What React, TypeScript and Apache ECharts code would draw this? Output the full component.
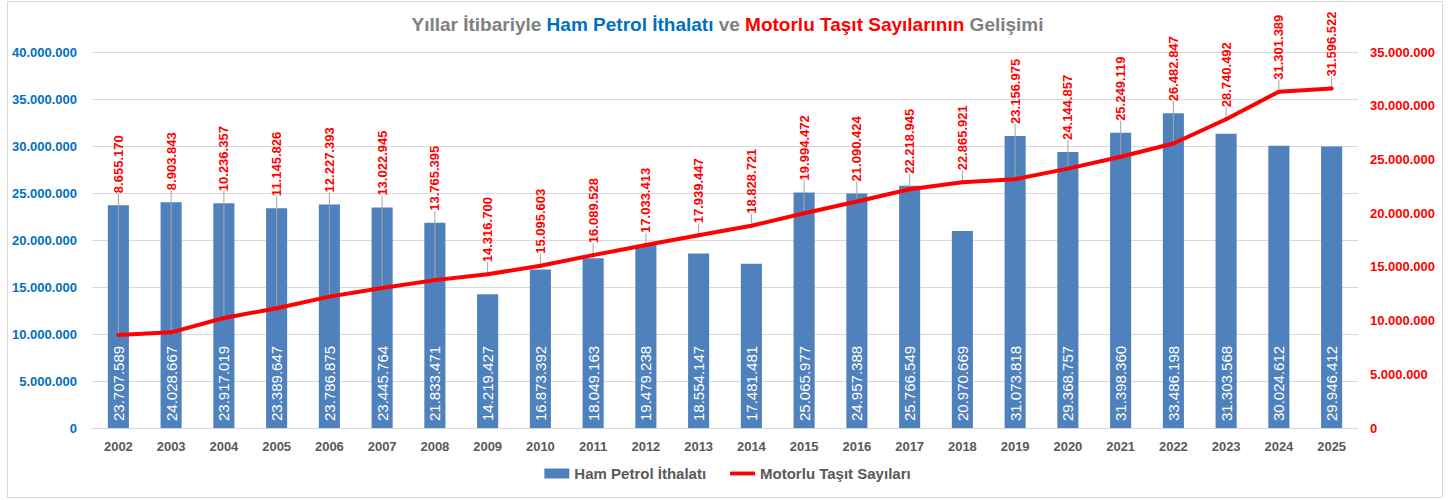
import React, { useEffect, useRef } from "react";
import * as echarts from "echarts";

const years = ["2002","2003","2004","2005","2006","2007","2008","2009","2010","2011","2012","2013","2014","2015","2016","2017","2018","2019","2020","2021","2022","2023","2024","2025"];
const crudeImports = [23707589, 24028667, 23917019, 23389647, 23786875, 23445764, 21833471, 14219427, 16873392, 18049163, 19479238, 18554147, 17481481, 25065977, 24957388, 25766549, 20970669, 31073818, 29368757, 31398360, 33486198, 31303568, 30024612, 29946412];
const vehicles = [8655170, 8903843, 10236357, 11145826, 12227393, 13022945, 13765395, 14316700, 15095603, 16089528, 17033413, 17939447, 18828721, 19994472, 21090424, 22218945, 22865921, 23156975, 24144857, 25249119, 26482847, 28740492, 31301389, 31596522];
const leftAxisMax = 40000000;
const rightAxisMax = 35000000;
const axisInterval = 5000000;

const FONT = "Liberation Sans";
const fmt = (v: number) => String(Math.round(v)).replace(/\B(?=(\d{3})+(?!\d))/g, ".");

export default function App() {
  const ref = useRef<HTMLDivElement>(null);
  useEffect(() => {
    document.body.style.margin = "0";
    if (!ref.current) return;
    const chart = echarts.init(ref.current, null, { renderer: "svg" });
    const option: any = {
      animation: false,
      backgroundColor: "#ffffff",
      textStyle: { fontFamily: FONT },
      title: {
        left: "center",
        top: 10,
        text:
          "{g|Yıllar İtibariyle }{b|Ham Petrol İthalatı}{g| ve }{r|Motorlu Taşıt Sayılarının}{g| Gelişimi}",
        textStyle: {
          rich: {
            g: { color: "#808080", fontSize: 19, fontWeight: "bold", fontFamily: FONT },
            b: { color: "#0070c0", fontSize: 19, fontWeight: "bold", fontFamily: FONT },
            r: { color: "#ff0000", fontSize: 19, fontWeight: "bold", fontFamily: FONT },
          },
        },
      },
      graphic: [
        {
          type: "rect",
          shape: { x: 7.5, y: 1.5, width: 1435, height: 496 },
          style: { fill: "none", stroke: "#d9d9d9", lineWidth: 1 },
          silent: true,
        },
      ],
      legend: {
        bottom: 14,
        left: "center",
        itemGap: 24,
        itemWidth: 25,
        itemHeight: 10,
        textStyle: { color: "#595959", fontSize: 15, fontWeight: "bold", fontFamily: FONT },
        data: [
          { name: "Ham Petrol İthalatı", icon: "rect" },
          { name: "Motorlu Taşıt Sayıları", icon: "path://M0,0 H26 V4 H0 Z" },
        ],
      },
      grid: { left: 92, right: 97, top: 52, bottom: 72 },
      xAxis: {
        type: "category",
        data: years,
        axisLine: { lineStyle: { color: "#d9d9d9" } },
        axisTick: { show: false },
        axisLabel: { color: "#595959", fontSize: 13, fontWeight: "bold", margin: 12, fontFamily: FONT },
      },
      yAxis: [
        {
          type: "value",
          min: 0,
          max: leftAxisMax,
          interval: axisInterval,
          axisLine: { show: false },
          axisTick: { show: false },
          splitLine: { lineStyle: { color: "#d9d9d9" } },
          axisLabel: { color: "#0070c0", fontSize: 13, fontWeight: "bold", margin: 15, formatter: fmt, fontFamily: FONT },
        },
        {
          type: "value",
          min: 0,
          max: rightAxisMax,
          interval: axisInterval,
          axisLine: { show: false },
          axisTick: { show: false },
          splitLine: { show: false },
          axisLabel: { color: "#ff0000", fontSize: 13, fontWeight: "bold", margin: 12, formatter: fmt, fontFamily: FONT },
        },
      ],
      series: [
        {
          name: "Ham Petrol İthalatı",
          type: "bar",
          yAxisIndex: 0,
          data: crudeImports,
          barWidth: "40%",
          itemStyle: { color: "#4f81bd" },
          label: {
            show: true,
            position: "insideBottom",
            rotate: 90,
            align: "left",
            verticalAlign: "middle",
            distance: 7,
            color: "#ffffff",
            fontSize: 15,
            fontFamily: FONT,
            formatter: (p: any) => fmt(p.value),
          },
        },
        {
          name: "Motorlu Taşıt Sayıları",
          type: "line",
          yAxisIndex: 1,
          data: vehicles,
          symbol: "circle",
          symbolSize: 4,
          showSymbol: true,
          itemStyle: { color: "#ff0000" },
          lineStyle: { color: "#ff0000", width: 4 },
          z: 5,
          label: {
            show: true,
            position: "top",
            rotate: 90,
            align: "left",
            verticalAlign: "middle",
            color: "#ff0000",
            fontSize: 13,
            fontWeight: "bold",
            fontFamily: FONT,
            formatter: (p: any) => fmt(p.value),
          },
          labelLine: { show: true, lineStyle: { color: "#a6a6a6", width: 1 } },
          labelLayout: (params: any) => {
            const i = params.dataIndex;
            const cx = params.rect.x + params.rect.width / 2;
            const lineY = params.rect.y + params.rect.height / 2;
            let barY = lineY;
            try {
              const py = chart.convertToPixel({ yAxisIndex: 0 } as any, crudeImports[i]) as any;
              if (typeof py === "number" && isFinite(py)) barY = py;
            } catch (e) {}
            const y = Math.min(lineY, barY) - 12;
            return { x: cx, y };
          },
        },
      ],
    };
    chart.setOption(option);
    return () => chart.dispose();
  }, []);
  return <div ref={ref} style={{ width: 1455, height: 500 }} />;
}
